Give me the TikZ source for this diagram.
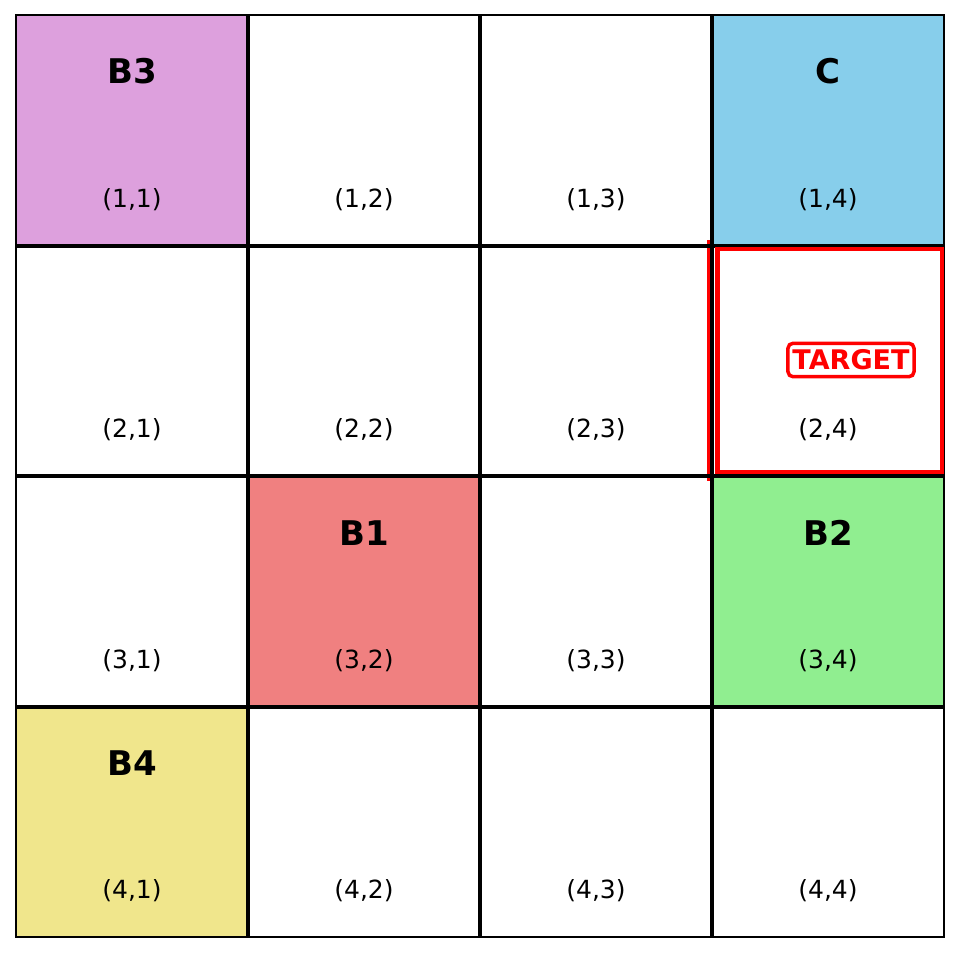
\documentclass[tikz,border=0pt]{standalone}
\usepackage{fontspec}
\setmainfont{DejaVu Sans}
\begin{document}
\begin{tikzpicture}[x=1pt,y=-1pt,
  cell/.style={draw=black,line width=2pt,minimum width=232pt,minimum height=230.5pt,inner sep=0pt,outer sep=0pt,anchor=north west},
  gridline/.style={draw=black,line width=4pt},
  coord/.style={font=\fontsize{25}{29}\selectfont,inner sep=0pt},
  blabel/.style={font=\fontsize{34}{40}\selectfont\bfseries,inner sep=0pt},
  targetbox/.style={draw=red,line width=3.5pt,rounded corners=5pt,text=red,font=\fontsize{27}{31}\selectfont\bfseries,inner xsep=4.5pt,inner ysep=6.5pt,fill=white}]
\useasboundingbox (0,0) rectangle (959,953);
\definecolor{plumc}{HTML}{DDA0DD}
\definecolor{skyc}{HTML}{87CEEB}
\definecolor{coralc}{HTML}{F08080}
\definecolor{greenc}{HTML}{90EE90}
\definecolor{khakic}{HTML}{F0E68C}
\foreach \i in {1,...,4}{
  \foreach \j in {1,...,4}{
    \pgfmathsetmacro{\xx}{16+(\j-1)*232}
    \pgfmathsetmacro{\yy}{15+(\i-1)*230.5}
    \def\fillc{white}
    \ifnum\i=1 \ifnum\j=1 \def\fillc{plumc}\fi\fi
    \ifnum\i=1 \ifnum\j=4 \def\fillc{skyc}\fi\fi
    \ifnum\i=3 \ifnum\j=2 \def\fillc{coralc}\fi\fi
    \ifnum\i=3 \ifnum\j=4 \def\fillc{greenc}\fi\fi
    \ifnum\i=4 \ifnum\j=1 \def\fillc{khakic}\fi\fi
    \node[cell,fill=\fillc] (c\i\j) at (\xx,\yy) {};
  }
}
\draw[red,line width=3pt] (708.5,240) coordinate (rl1) -- (708.5,481) coordinate (rl2);
\foreach \j in {1,2,3}{
  \draw[gridline] (c1\j.north east) -- (c4\j.south east);
  \draw[gridline] (c\j1.south west) -- (c\j4.south east);
}
\foreach \i in {1,...,4}{
  \foreach \j in {1,...,4}{
    \node[coord] (l\i\j) at ([yshift=46pt]c\i\j.south) {(\i,\j)};
  }
}
\node[blabel] (b3) at ([yshift=-56pt]c11.north) {B3};
\node[blabel] (cc) at ([yshift=-56pt]c14.north) {C};
\node[blabel] (b1) at ([yshift=-57pt]c32.north) {B1};
\node[blabel] (b2) at ([yshift=-57pt]c34.north) {B2};
\node[blabel] (b4) at ([yshift=-57pt]c41.north) {B4};
\draw[red,line width=4.5pt] (717.5,249) coordinate (r1) rectangle (942,472) coordinate (r2);
\node[targetbox] (target) at (851,360) {TARGET};
\end{tikzpicture}
\end{document}
